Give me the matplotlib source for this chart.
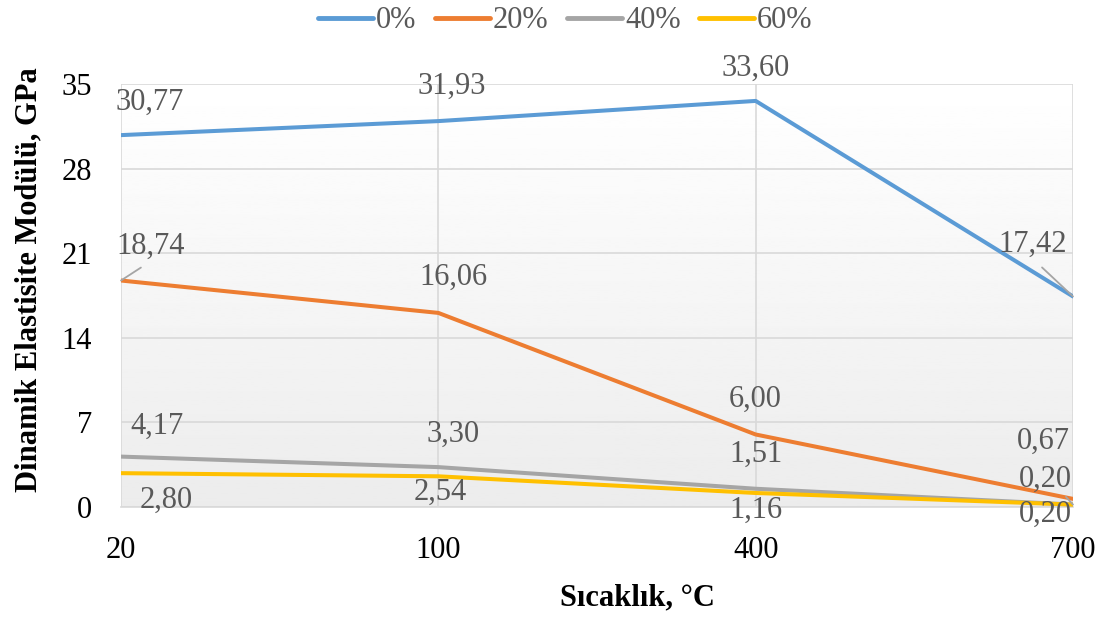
import matplotlib.pyplot as plt
import numpy as np

plt.rcParams['font.family'] = ['Liberation Serif', 'DejaVu Serif']

temps = ['20', '100', '400', '700']
series = ['0%', '20%', '40%', '60%']
v0 = [30.77, 31.93, 33.60, 17.42]
v20 = [18.74, 16.06, 6.00, 0.67]
v40 = [4.17, 3.30, 1.51, 0.20]
v60 = [2.80, 2.54, 1.16, 0.20]
values = [v0, v20, v40, v60]
colors = ['#5B9BD5', '#ED7D31', '#A5A5A5', '#FFC000']

# label offsets in pixels (dx, dy) relative to the point
offsets = [
    [(29, 33), (13, 35), (0, 33), (-40, 52)],
    [(30, 34), (15, 36), (0, 35), (-30, 58)],
    [(36, 30), (15, 33), (0, 34), (-28, 25)],
    [(45, -27), (2, -16), (0, -17), (-28, -10)],
]
# leader lines: which label, and where on the label box the line starts
leaders = {(0, 3): ((0.5, 0.0), 6), (1, 0): ((0.5, 0.0), 5), (2, 3): ((0.4, 0.9), 0)}

fig = plt.figure(figsize=(11.02, 6.17), dpi=100)
ax = fig.add_axes([121 / 1102, 1 - 507 / 617, (1073 - 121) / 1102, (507 - 84) / 617])

x = np.arange(len(temps))

# gradient background
grad = np.linspace(1.0, 0.925, 256).reshape(-1, 1)
ax.imshow(grad, cmap='gray', vmin=0, vmax=1, aspect='auto',
          extent=[0, 3, 0, 35], origin='upper', zorder=0)

for i, (name, vals) in enumerate(zip(series, values)):
    ax.plot(x, vals, color=colors[i], lw=2.9, label=name, zorder=3,
            solid_capstyle='round')
    for j, v in enumerate(vals):
        dx, dy = offsets[i][j]
        txt = f'{v:.2f}'.replace('.', ',')
        kw = dict(xytext=(dx, dy), textcoords='offset pixels', ha='center', va='center',
                  fontsize=22, color='#595959', zorder=4)
        if (i, j) in leaders:
            rp, sa = leaders[(i, j)]
            kw['arrowprops'] = dict(arrowstyle='-', color='#A5A5A5', lw=1.3,
                                    relpos=rp, shrinkA=sa, shrinkB=0)
        ax.annotate(txt, (x[j], v), **kw)

ax.set_xlim(0, 3)
ax.set_ylim(0, 35)
ax.set_yticks(np.arange(0, 36, 7))
ax.set_xticks(x)
ax.set_xticklabels(temps)
ax.grid(True, color='#D9D9D9', lw=1.2, zorder=1)
ax.set_axisbelow(True)
for s in ['top', 'left', 'right']:
    ax.spines[s].set_visible(False)
ax.spines['bottom'].set_color('#D9D9D9')
ax.spines['bottom'].set_linewidth(1.2)
ax.tick_params(length=0, labelsize=22, colors='black')
ax.tick_params(axis='x', pad=21)
ax.tick_params(axis='y', pad=21)

ax.set_xlabel('Sıcaklık, °C', fontsize=22, fontweight='bold')
ax.set_ylabel('Dinamik Elastisite Modülü, GPa', fontsize=22, fontweight='bold')
ax.xaxis.set_label_coords(0.543, -0.18)
ax.yaxis.set_label_coords(-0.081, 0.537)

leg = fig.legend(loc='center', bbox_to_anchor=(0.513, 0.966), ncol=4, frameon=False,
                 fontsize=22, handlelength=1.8, handletextpad=0.1, columnspacing=0.6,
                 labelcolor='#595959')
for h in leg.get_lines():
    h.set_linewidth(3.5)

fig.savefig('out.png', dpi=100)
